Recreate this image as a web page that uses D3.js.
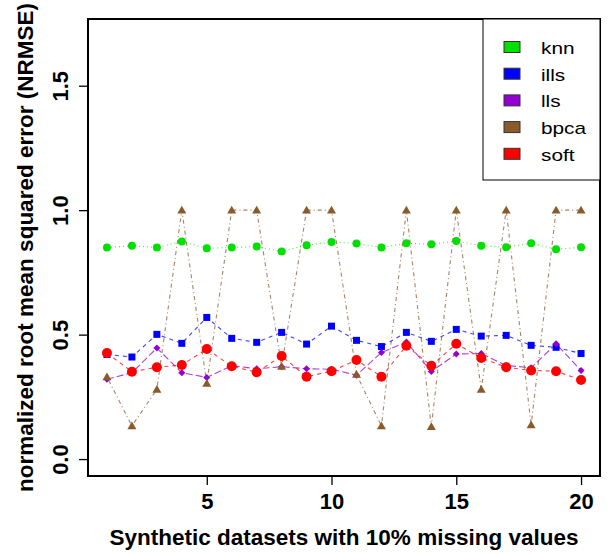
<!DOCTYPE html>
<html>
<head>
<meta charset="utf-8">
<script src="https://cdn.jsdelivr.net/npm/d3@7"></script>
<style>
  body { margin: 0; background: #fff; }
  svg { display: block; font-family: "Liberation Sans", Arial, sans-serif; }
</style>
</head>
<body>
<div id="app"></div>
<script>
const datasets = d3.range(1, 21);
const knn = [0.850, 0.857, 0.850, 0.874, 0.847, 0.850, 0.854, 0.834, 0.859, 0.872,
             0.866, 0.850, 0.867, 0.863, 0.876, 0.857, 0.851, 0.867, 0.843, 0.851];
const ills = [0.420, 0.410, 0.501, 0.465, 0.569, 0.485, 0.469, 0.509, 0.462, 0.534,
              0.477, 0.452, 0.509, 0.473, 0.521, 0.494, 0.497, 0.457, 0.449, 0.424];
const lls = [0.321, 0.347, 0.446, 0.347, 0.328, 0.375, 0.363, 0.371, 0.363, 0.361,
             0.337, 0.428, 0.470, 0.352, 0.422, 0.424, 0.376, 0.367, 0.463, 0.356];
const bpca = [0.330, 0.133, 0.280, 1.000, 0.304, 1.000, 1.000, 0.372, 1.000, 1.000,
              0.340, 0.133, 1.000, 0.130, 1.000, 0.280, 1.000, 0.137, 1.000, 1.000];
const soft = [0.426, 0.351, 0.369, 0.378, 0.442, 0.373, 0.349, 0.414, 0.331, 0.353,
              0.398, 0.331, 0.455, 0.375, 0.463, 0.406, 0.369, 0.356, 0.353, 0.318];
const xTicks = [5, 10, 15, 20];
const yTicks = [0, 0.5, 1.0, 1.5];

const series = [
  { name: "knn", values: knn, color: "#00e000", dash: "1,3", shape: "circle", size: 4 },
  { name: "ills", values: ills, color: "#0000ff", dash: "4,4", shape: "square", size: 3.5 },
  { name: "lls", values: lls, color: "#9400d3", dash: "7,3", shape: "diamond", size: 3.5 },
  { name: "bpca", values: bpca, color: "#8b5a2b", dash: "1,3,4,3", shape: "triangle", size: 4.5 },
  { name: "soft", values: soft, color: "#ff0000", dash: "4,4", shape: "circle", size: 5 }
];

const width = 609;
const height = 555;
const margin = { top: 19, right: 9, bottom: 79, left: 88 };

const xScale = d3.scaleLinear()
  .domain([0.24, 20.76])
  .range([margin.left, width - margin.right]);

const yScale = d3.scaleLinear()
  .domain([-0.068, 1.768])
  .range([height - margin.bottom, margin.top]);

const svg = d3.select("#app")
  .append("svg")
  .attr("width", width)
  .attr("height", height);

const line = d3.line()
  .x((d, i) => xScale(datasets[i]))
  .y(d => yScale(d));

// lines first, then points on top in series order
series.forEach(s => {
  svg.append("path")
    .datum(s.values)
    .attr("d", line)
    .attr("fill", "none")
    .attr("stroke", s.color)
    .attr("stroke-width", 1.1)
    .attr("stroke-opacity", 0.75)
    .attr("stroke-dasharray", s.dash);
});

const symbolPath = (shape, r) => {
  if (shape === "square") return d3.symbol(d3.symbolSquare, (2 * r) * (2 * r))();
  if (shape === "diamond") return `M0,${-r}L${r},0L0,${r}L${-r},0Z`;
  if (shape === "triangle") return `M0,${-r}L${r},${r * 0.75}L${-r},${r * 0.75}Z`;
  return d3.symbol(d3.symbolCircle, Math.PI * r * r)();
};

series.forEach(s => {
  svg.append("g")
    .selectAll("path")
    .data(s.values)
    .join("path")
    .attr("transform", (d, i) => `translate(${xScale(datasets[i])},${yScale(d)})`)
    .attr("d", symbolPath(s.shape, s.size))
    .attr("fill", s.color);
});

// axes
const xAxis = d3.axisBottom(xScale).tickValues(xTicks).tickSize(9);
const yAxis = d3.axisLeft(yScale).tickValues(yTicks).tickSize(9).tickFormat(d3.format(".1f"));

const gx = svg.append("g")
  .attr("transform", `translate(0, ${height - margin.bottom})`)
  .call(xAxis);
gx.select(".domain").remove();
gx.selectAll("line").attr("stroke", "#000").attr("stroke-width", 1.3);
gx.selectAll("text")
  .attr("fill", "#000")
  .style("font-size", "22px")
  .style("font-weight", "bold")
  .attr("y", 33)
  .attr("dy", null);

const gy = svg.append("g")
  .attr("transform", `translate(${margin.left}, 0)`)
  .call(yAxis);
gy.select(".domain").remove();
gy.selectAll("line").attr("stroke", "#000").attr("stroke-width", 1.3);
gy.selectAll("text")
  .attr("fill", "#000")
  .style("font-size", "22px")
  .style("font-weight", "bold")
  .attr("x", null)
  .attr("dy", null)
  .attr("text-anchor", "middle")
  .attr("transform", "translate(-20, 0) rotate(-90)");

// plot frame
svg.append("rect")
  .attr("x", margin.left)
  .attr("y", margin.top)
  .attr("width", width - margin.left - margin.right)
  .attr("height", height - margin.top - margin.bottom)
  .attr("fill", "none")
  .attr("stroke", "#000")
  .attr("stroke-width", 2);

// axis titles
svg.append("text")
  .attr("x", (margin.left + width - margin.right) / 2)
  .attr("y", 545)
  .attr("text-anchor", "middle")
  .style("font-size", "22.5px")
  .style("font-weight", "bold")
  .text("Synthetic datasets with 10% missing values");

svg.append("text")
  .attr("transform", `translate(33, ${(margin.top + height - margin.bottom) / 2}) rotate(-90)`)
  .attr("text-anchor", "middle")
  .style("font-size", "22.5px")
  .style("font-weight", "bold")
  .text("normalized root mean squared error (NRMSE)");

// legend
const legend = svg.append("g");
legend.append("rect")
  .attr("x", 483)
  .attr("y", margin.top)
  .attr("width", width - margin.right - 483)
  .attr("height", 161)
  .attr("fill", "#fff")
  .attr("stroke", "#000")
  .attr("stroke-width", 1);

const items = legend.selectAll("g.item")
  .data(series)
  .join("g")
  .attr("class", "item")
  .attr("transform", (d, i) => `translate(0, ${54 + i * 26.7})`);

items.append("rect")
  .attr("x", 504)
  .attr("y", -12.5)
  .attr("width", 16)
  .attr("height", 11)
  .attr("fill", d => d.color)
  .attr("stroke", "#333")
  .attr("stroke-width", 1);

items.append("text")
  .attr("transform", "translate(541, 0) scale(1.3, 1)")
  .style("font-size", "16px")
  .text(d => d.name);
</script>
</body>
</html>
